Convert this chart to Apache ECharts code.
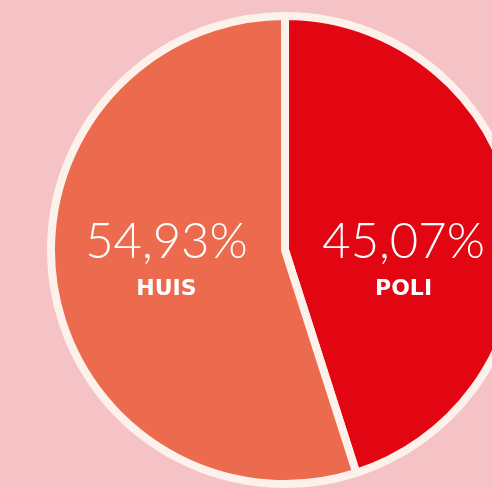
<!DOCTYPE html>
<html>
<head>
<meta charset="utf-8">
<script src="https://cdn.jsdelivr.net/npm/echarts@6/dist/echarts.min.js"></script>
<style>
  html, body { margin: 0; padding: 0; background: #f5c2c5; }
  #chart { width: 492px; height: 488px; }
</style>
</head>
<body>
<div id="chart"></div>
<script>
// data
var categories = ['POLI', 'HUIS']
var shares = [45.07, 54.93]
var colors = ['#e20613', '#ec6b4e']
// label nudges so both labels sit on the same line
var labelOffsets = [[0, 31], [0, -6]]

var chart = echarts.init(document.getElementById('chart'))

var pieData = categories.map(function (name, i) {
  return {
    name: name,
    value: shares[i],
    itemStyle: { color: colors[i] },
    label: { offset: labelOffsets[i] }
  }
})

chart.setOption({
  backgroundColor: '#f5c2c5',
  animation: false,
  series: [{
    type: 'pie',
    center: [285, 250],
    radius: [0, 234],
    startAngle: 90,
    clockwise: true,
    silent: true,
    itemStyle: {
      borderColor: '#fdf1eb',
      borderWidth: 8
    },
    label: {
      show: true,
      position: 'inside',
      formatter: function (p) {
        return '{a|' + p.value.toFixed(2).replace('.', ',') + '%}\n{b|' + p.name + '}'
      },
      rich: {
        a: {
          color: '#ffffff',
          fontFamily: 'Lato',
          fontWeight: 300,
          fontSize: 49,
          lineHeight: 54,
          align: 'center'
        },
        b: {
          color: '#ffffff',
          fontFamily: 'DejaVu Sans',
          fontWeight: 'bold',
          fontSize: 22,
          lineHeight: 40,
          align: 'center'
        }
      }
    },
    labelLine: { show: false },
    data: pieData
  }]
})
</script>
</body>
</html>
